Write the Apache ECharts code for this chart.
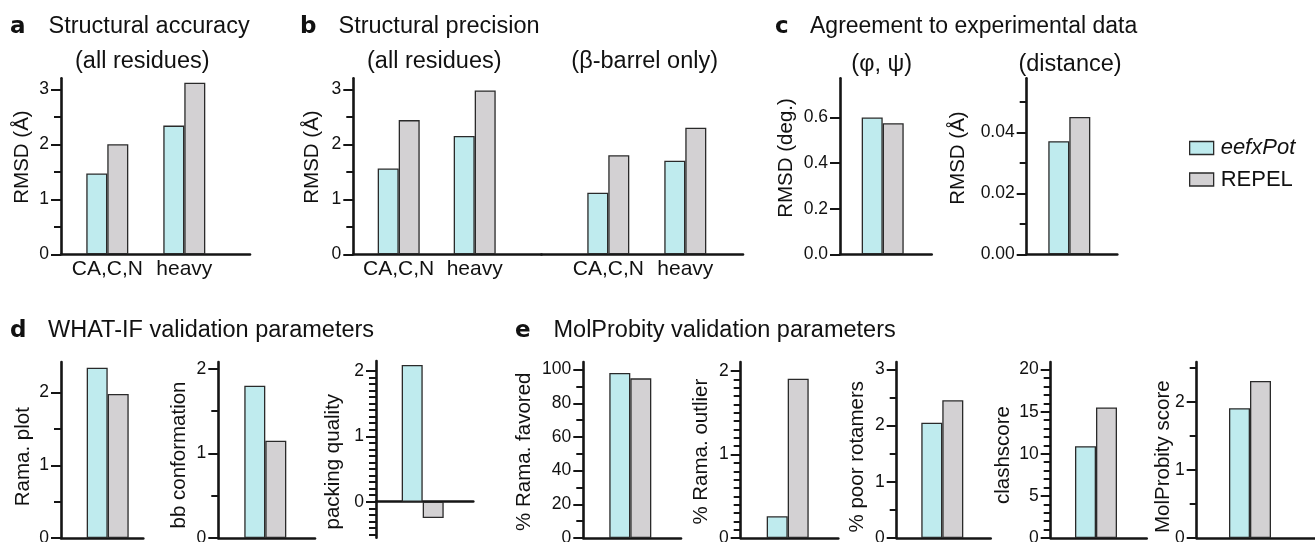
<!DOCTYPE html>
<html><head><meta charset="utf-8">
<script src="https://cdn.jsdelivr.net/npm/echarts@6/dist/echarts.min.js"></script>
<style>html,body{margin:0;padding:0;background:#fff}#c{width:1315px;height:542px}</style>
</head><body><div id="c"></div>
<script>
// ---------------- data ----------------
const seriesNames = ['eefxPot', 'REPEL'];
const structCats = ['CA,C,N', 'heavy'];
// a  Structural accuracy (all residues)
const accuracyEefx = [1.47, 2.34];
const accuracyRepel = [2.00, 3.12];
// b  Structural precision
const precAllEefx = [1.56, 2.15];
const precAllRepel = [2.44, 2.98];
const precBarrelEefx = [1.12, 1.70];
const precBarrelRepel = [1.80, 2.30];
// c  Agreement to experimental data  [eefxPot, REPEL]
const phiPsiRmsd = [0.600, 0.575];
const distanceRmsd = [0.0371, 0.0450];
// d  WHAT-IF  [eefxPot, REPEL]
const ramaPlot = [2.34, 1.98];
const bbConformation = [1.80, 1.15];
const packingQuality = [2.09, -0.25];
// e  MolProbity  [eefxPot, REPEL]
const ramaFavored = [98.0, 94.8];
const ramaOutlier = [0.26, 1.91];
const poorRotamers = [2.05, 2.45];
const clashscore = [10.9, 15.5];
const molprobityScore = [1.91, 2.31];

// tick values / labels
const ticks0to3 = [0, 1, 2, 3];
const ticks0to2 = [0, 1, 2];
const halfMinor3 = [0.5, 1.5, 2.5];
const halfMinor2 = [0.5, 1.5];
const phiTicks = [0, 0.2, 0.4, 0.6];
const phiTickLabels = ['0.0', '0.2', '0.4', '0.6'];
const distTicks = [0, 0.02, 0.04];
const distTickLabels = ['0.00', '0.02', '0.04'];
const distMinor = [0.01, 0.03, 0.05];
const packMinor = [-0.5, -0.4, -0.3, -0.2, -0.1, 0.1, 0.2, 0.3, 0.4, 0.5, 0.6, 0.7, 0.8, 0.9,
                   1.1, 1.2, 1.3, 1.4, 1.5, 1.6, 1.7, 1.8, 1.9];
const favTicks = [0, 20, 40, 60, 80, 100];
const favMinor = [10, 30, 50, 70, 90];
const outlierMinor = [0.1, 0.2, 0.3, 0.4, 0.5, 0.6, 0.7, 0.8, 0.9,
                      1.1, 1.2, 1.3, 1.4, 1.5, 1.6, 1.7, 1.8, 1.9];
const clashTicks = [0, 5, 10, 15, 20];
const clashMinor = [1, 2, 3, 4, 6, 7, 8, 9, 11, 12, 13, 14, 16, 17, 18, 19];

// ---------------- layout ----------------
const FONT = "'Liberation Sans', Arial, Helvetica, sans-serif";
const AX = '#151515';
const TXT = '#111';
const FILL = { eefxPot: '#BFEBEE', REPEL: '#D3D1D3' };
const R1 = { top: 78.3, bottom: 254.3 };
const R2 = { top: 362, bottom: 538 };

const panels = [
  { left: 61, right: 250, ...R1, centers: [107.3, 184.3], cats: structCats, eefx: accuracyEefx, repel: accuracyRepel,
    yMin: 0, yMax: 3.2, major: ticks0to3, minor: halfMinor3, name: 'RMSD (Å)', nameCx: 22.5, nameCy: 157 },
  { left: 353.3, right: 541.5, ...R1, centers: [398.7, 474.7], cats: structCats, eefx: precAllEefx, repel: precAllRepel,
    yMin: 0, yMax: 3.2, major: ticks0to3, minor: halfMinor3, name: 'RMSD (Å)', nameCx: 313, nameCy: 157 },
  { left: 541.5, right: 743, ...R1, centers: [608.3, 685.3], cats: structCats, eefx: precBarrelEefx, repel: precBarrelRepel,
    yMin: 0, yMax: 3.2, major: ticks0to3, minor: halfMinor3, hideY: true },
  { left: 840, right: 931.7, ...R1, centers: [882.7], eefx: [phiPsiRmsd[0]], repel: [phiPsiRmsd[1]],
    yMin: 0, yMax: 0.772, major: phiTicks, labels: phiTickLabels, minor: [], name: 'RMSD (deg.)', nameCx: 786.7, nameCy: 158 },
  { left: 1026.7, right: 1117.3, ...R1, centers: [1069.3], eefx: [distanceRmsd[0]], repel: [distanceRmsd[1]],
    yMin: 0, yMax: 0.0577, major: distTicks, labels: distTickLabels, minor: distMinor, name: 'RMSD (Å)', nameCx: 958.3, nameCy: 158 },
  { left: 61, right: 143.3, ...R2, centers: [107.7], eefx: [ramaPlot[0]], repel: [ramaPlot[1]],
    yMin: 0, yMax: 2.42, major: ticks0to2, minor: halfMinor2, name: 'Rama. plot', nameCx: 23.3, nameCy: 456.7 },
  { left: 218.3, right: 315, ...R2, centers: [265.3], eefx: [bbConformation[0]], repel: [bbConformation[1]],
    yMin: 0, yMax: 2.08, major: ticks0to2, minor: halfMinor2, name: 'bb conformation', nameCx: 180, nameCy: 455 },
  { left: 376, right: 473.3, top: 361, bottom: 537.7, centers: [422.7], eefx: [packingQuality[0]], repel: [packingQuality[1]],
    yMin: -0.55, yMax: 2.15, major: ticks0to2, minor: packMinor, name: 'packing quality', nameCx: 333.3, nameCy: 461.7 },
  { left: 583.3, right: 681, ...R2, centers: [630.3], eefx: [ramaFavored[0]], repel: [ramaFavored[1]],
    yMin: 0, yMax: 104.5, major: favTicks, minor: favMinor, name: '% Rama. favored', nameCx: 525, nameCy: 451.7 },
  { left: 740.7, right: 838.3, ...R2, centers: [787.7], eefx: [ramaOutlier[0]], repel: [ramaOutlier[1]],
    yMin: 0, yMax: 2.11, major: ticks0to2, minor: outlierMinor, name: '% Rama. outlier', nameCx: 701.7, nameCy: 451.7 },
  { left: 896.7, right: 990.7, ...R2, centers: [942.3], eefx: [poorRotamers[0]], repel: [poorRotamers[1]],
    yMin: 0, yMax: 3.13, major: ticks0to3, minor: halfMinor3, name: '% poor rotamers', nameCx: 857.3, nameCy: 456.7 },
  { left: 1050.7, right: 1146.7, ...R2, centers: [1096], eefx: [clashscore[0]], repel: [clashscore[1]],
    yMin: 0, yMax: 20.9, major: clashTicks, minor: clashMinor, name: 'clashscore', nameCx: 1003.3, nameCy: 455 },
  { left: 1196.7, right: 1315, ...R2, centers: [1250], eefx: [molprobityScore[0]], repel: [molprobityScore[1]],
    yMin: 0, yMax: 2.59, major: ticks0to2, minor: halfMinor3, name: 'MolProbity score', nameCx: 1163.3, nameCy: 456.7 }
];

const NAME_FS = 20.5;
const grids = [], xAxes = [], yAxes = [], series = [];

function sortedUnion(list) { return list.slice().sort((a, b) => a - b); }
function minStep(s) { let st = Infinity; for (let i = 1; i < s.length; i++) st = Math.min(st, s[i] - s[i - 1]); return st; }

// an extra grid aligned to a panel's value scale that only draws ticks (and labels)
function addTickGrid(p, lo, hi, step, len, labelFn) {
  const ppu = (p.bottom - p.top) / (p.yMax - p.yMin);
  const yOf = v => p.bottom - (v - p.yMin) * ppu;
  const gi = grids.length;
  grids.push({ left: p.left, top: yOf(hi), width: p.right - p.left, height: (hi - lo) * ppu,
    containLabel: false, outerBoundsMode: 'none' });
  xAxes.push({ type: 'value', gridIndex: gi, show: false, min: 0, max: 1 });
  yAxes.push({
    type: 'value', gridIndex: gi, position: 'left', min: lo, max: hi, interval: step,
    axisLine: { show: false, onZero: false },
    axisTick: { show: true, length: len, lineStyle: { color: AX, width: 2 } },
    axisLabel: labelFn ? { show: true, margin: 12, fontSize: 17.5, color: TXT, fontFamily: FONT, formatter: labelFn }
                       : { show: false },
    splitLine: { show: false }
  });
}

panels.forEach(p => {
  const gi = grids.length;
  grids.push({ left: p.left, top: p.top, width: p.right - p.left, height: p.bottom - p.top,
    containLabel: false, outerBoundsMode: 'none' });
  const unit = p.centers.length > 1 ? p.centers[1] - p.centers[0] : 100;
  const xi = xAxes.length;
  xAxes.push({
    type: 'value', gridIndex: gi, position: 'bottom',
    min: (p.left - p.centers[0]) / unit, max: (p.right - p.centers[0]) / unit,
    axisLine: { show: true, onZero: true, lineStyle: { color: AX, width: 2.6 } },
    axisTick: { show: false }, splitLine: { show: false },
    axisLabel: p.cats ? {
      show: true, customValues: p.cats.map((c, i) => i),
      formatter: v => { const i = Math.round(v); return Math.abs(v - i) < 1e-6 ? (p.cats[i] || '') : ''; },
      fontSize: 21, color: TXT, margin: 4, fontFamily: FONT
    } : { show: false }
  });
  const mid = (p.top + p.bottom) / 2;
  const shift = mid - (p.nameCy || mid);
  const pad = shift >= 0 ? [0, 0, 0, 2 * shift] : [0, -2 * shift, 0, 0];
  const yi = yAxes.length;
  yAxes.push({
    type: 'value', gridIndex: gi, position: 'left', show: !p.hideY,
    min: p.yMin, max: p.yMax,
    axisLine: { show: true, onZero: false, lineStyle: { color: AX, width: 2.6 } },
    axisTick: { show: false }, axisLabel: { show: false }, splitLine: { show: false },
    name: p.name || '', nameLocation: 'middle', nameMoveOverlap: false,
    nameGap: p.name ? p.left - p.nameCx - NAME_FS / 2 : 0,
    nameTextStyle: { fontSize: NAME_FS, color: TXT, fontFamily: FONT, padding: pad }
  });
  seriesNames.forEach((nm, si) => {
    const vals = si === 0 ? p.eefx : p.repel;
    series.push({
      type: 'bar', name: nm, xAxisIndex: xi, yAxisIndex: yi,
      data: vals.map((v, i) => [i, v]),
      barWidth: 21, barGap: '0%',
      itemStyle: { color: FILL[nm], borderColor: '#2a2a2a', borderWidth: 1.3 },
      emphasis: { disabled: true }, silent: true
    });
  });
});

// tick grids: minor ticks split into interleaved subsets, then labelled major ticks
panels.forEach(p => {
  if (p.hideY) return;
  const ppu = (p.bottom - p.top) / (p.yMax - p.yMin);
  if (p.minor.length) {
    const all = sortedUnion(p.minor.concat(p.major));
    const step = +minStep(all).toPrecision(6);
    const k = Math.max(1, Math.ceil(26 / (step * ppu)));
    for (let j = 0; j < k; j++) {
      const sub = all.filter((v, i) => i % k === j);
      if (sub.length < 2) continue;
      addTickGrid(p, sub[0], sub[sub.length - 1], +(k * step).toPrecision(6), 7, null);
    }
  }
  const maj = sortedUnion(p.major);
  addTickGrid(p, maj[0], maj[maj.length - 1], +minStep(maj).toPrecision(6), 10, v => {
    const i = p.major.findIndex(m => Math.abs(m - v) < 1e-9);
    if (i < 0) return '';
    return p.labels ? p.labels[i] : String(p.major[i]);
  });
});

function txt(text, x, y, size, opts) {
  opts = opts || {};
  return { type: 'text', x: x, y: y, silent: true,
    style: { text: text, fontSize: size, fontFamily: opts.family || FONT, fontWeight: opts.weight || 'normal',
      fill: TXT, textAlign: opts.align || 'left', align: opts.align || 'left',
      textVerticalAlign: 'middle', verticalAlign: 'middle' } };
}
const LETTER = { family: "'DejaVu Sans', sans-serif", weight: 'bold' };
const graphics = [
  txt('a', 10, 27, 23, LETTER), txt('Structural accuracy', 48.5, 27, 23.5),
  txt('b', 300, 27, 23, LETTER), txt('Structural precision', 338.5, 27, 23.5),
  txt('c', 775, 27, 23, LETTER), txt('Agreement to experimental data', 810, 27, 23),
  txt('d', 10, 331, 23, LETTER), txt('WHAT-IF validation parameters', 48, 331, 23.5),
  txt('e', 515, 331, 23, LETTER), txt('MolProbity validation parameters', 553.5, 331, 23.5),
  txt('(all residues)', 142.3, 62, 23.5, { align: 'center' }),
  txt('(all residues)', 434.3, 62, 23.5, { align: 'center' }),
  txt('(β-barrel only)', 644.7, 62, 23.5, { align: 'center' }),
  txt('(φ, ψ)', 881.7, 64.5, 23.5, { align: 'center' }),
  txt('(distance)', 1070, 64.5, 23.5, { align: 'center' })
];

const chart = echarts.init(document.getElementById('c'), null, { renderer: 'canvas' });
chart.setOption({
  animation: false,
  backgroundColor: '#fff',
  textStyle: { fontFamily: FONT },
  grid: grids,
  xAxis: xAxes,
  yAxis: yAxes,
  legend: {
    data: seriesNames, orient: 'vertical', left: 1189, top: 137, padding: 0,
    itemWidth: 24, itemHeight: 13, itemGap: 9.5, icon: 'rect', selectedMode: false,
    itemStyle: { borderColor: '#2a2a2a', borderWidth: 1.3 },
    textStyle: { fontSize: 22, color: TXT, fontFamily: FONT, padding: [0, 0, 0, 2],
      rich: { it: { fontStyle: 'italic', fontSize: 22, color: TXT, fontFamily: FONT } } },
    formatter: n => n === 'eefxPot' ? '{it|eefxPot}' : n
  },
  graphic: graphics,
  series: series
});
</script>
</body></html>
